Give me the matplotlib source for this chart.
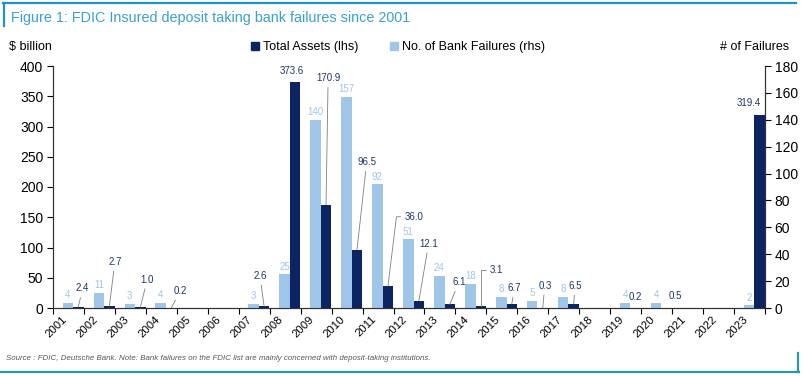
import matplotlib
matplotlib.use("Agg")
import matplotlib.pyplot as plt
from matplotlib.lines import Line2D
from matplotlib.patches import Patch
import numpy as np

plt.rcParams['font.family'] = ['Liberation Sans', 'DejaVu Sans']

years = [str(y) for y in range(2001, 2024)]
total_assets = [2.4, 2.7, 1.0, 0.2, 0, 0, 2.6, 373.6, 170.9, 96.5, 36.0, 12.1, 6.1, 3.1,
                6.7, 0.3, 6.5, 0, 0.2, 0.5, 0, 0, 319.4]
failures = [4, 11, 3, 4, 0, 0, 3, 25, 140, 157, 92, 51, 24, 18, 8, 5, 8, 0, 4, 4, 0, 0, 2]

# label offsets (points) of asset labels relative to bar top; leader style: None, 'straight', or elbow angle
asset_label_offsets = {
    0: (3, 13, 'straight'), 1: (4, 32, 'straight'), 2: (5, 20, 'straight'), 3: (6.5, 12, 'straight'),
    6: (-3, 22, 'straight'), 7: (-2, 8, None), 8: (1.5, 91, 'straight'), 9: (7, 63, 'straight'),
    10: (19, 50, 83), 11: (7, 41, 'straight'), 12: (6.5, 16, 'straight'), 13: (11.5, 26, 90),
    14: (2, 11.5, 'straight'), 15: (1.5, 16, 'straight'), 16: (1, 13, 'straight'), 18: (0, 8, None),
    19: (6, 8.5, None), 22: (-8, 8.5, None),
}

navy = '#0c2461'
light = '#9fc5e8'
label_navy = '#1f3567'
title_col = '#3aa0d2'

fig = plt.figure(figsize=(8.07, 3.76), dpi=100)
ax = fig.add_axes([53/807, 1-308/376, (765-53)/807, (308-66)/376])
ax2 = ax.twinx()

x = np.arange(len(years))
w = 0.34
ax2.bar(x - 0.02, failures, width=w, color=light, zorder=2)
ax.bar(x + 0.32, total_assets, width=w, color=navy, zorder=2)

ax.set_xlim(-0.5, len(years) - 0.5)
ax.set_ylim(0, 400)
ax2.set_ylim(0, 180)
ax.set_yticks(np.arange(0, 401, 50))
ax2.set_yticks(np.arange(0, 181, 20))

ax.set_xticks(x)
ax.set_xticklabels(years, rotation=45, ha='right', fontsize=8.2)
ax.tick_params(axis='x', which='major', length=0, pad=4.5)
ax.set_xticks(np.arange(-0.5, len(years), 1), minor=True)
ax.tick_params(axis='x', which='minor', length=4, direction='out', width=0.8)
ax.tick_params(axis='y', labelsize=10, length=4, width=0.8, pad=3)
ax2.tick_params(axis='y', labelsize=10, length=4, width=0.8, pad=3)

for a in (ax, ax2):
    a.spines['top'].set_visible(False)
    for s in ('left', 'right', 'bottom'):
        a.spines[s].set_linewidth(0.8)
        a.spines[s].set_color('#333333')

# failure labels
for i, v in enumerate(failures):
    if v > 0:
        ax2.annotate(str(v), (i - 0.02, v), xytext=(0, 2), textcoords='offset points',
                     ha='center', va='bottom', fontsize=7, color=light)

# asset labels
for i, (dx, dy, line) in asset_label_offsets.items():
    v = total_assets[i]
    kw = {}
    if line == 'straight':
        kw['arrowprops'] = dict(arrowstyle='-', color='#7f7f7f', lw=0.6, shrinkA=1, shrinkB=0)
    elif line is not None:
        kw['arrowprops'] = dict(arrowstyle='-', color='#7f7f7f', lw=0.6, shrinkA=1, shrinkB=0,
                                relpos=(0, 0.5),
                                connectionstyle=f'angle,angleA=0,angleB={line},rad=0')
    ax.annotate(f"{v:.1f}", (i + 0.32, v), xytext=(dx, dy), textcoords='offset points',
                ha='center', va='center', fontsize=7, color=label_navy, **kw)

# axis unit labels
fig.text(9/807, 1-47/376, '$ billion', fontsize=9, va='center', ha='left')
fig.text(789/807, 1-47/376, '# of Failures', fontsize=9, va='center', ha='right')

handles = [Patch(color=navy, label='Total Assets (lhs)'),
           Patch(color=light, label='No. of Bank Failures (rhs)')]
fig.legend(handles=handles, loc='center', bbox_to_anchor=(398/807, 1-47/376), ncol=2,
           frameon=False, fontsize=9, handlelength=0.6, handleheight=0.6,
           handletextpad=0.3, columnspacing=2.6)

# title and frame
fig.text(11/807, 1-18/376, 'Figure 1: FDIC Insured deposit taking bank failures since 2001',
         fontsize=10.4, color=title_col, va='center', ha='left')
fig.add_artist(Line2D([3/807, 796/807], [1-3/376, 1-3/376], color='#1f93c6', lw=1.6))
fig.add_artist(Line2D([4/807, 4/807], [1-3/376, 1-26/376], color='#1f93c6', lw=1.6))
fig.add_artist(Line2D([0/807, 799/807], [1-372/376, 1-372/376], color='#2a97a6', lw=1.6))
fig.add_artist(Line2D([798/807, 798/807], [1-372/376, 1-353/376], color='#2a97a6', lw=1.6))

fig.text(6/807, 1-358/376,
         'Source : FDIC, Deutsche Bank. Note: Bank failures on the FDIC list are mainly concerned with deposit-taking institutions.',
         fontsize=5.7, style='italic', color='#555555', va='center', ha='left')

fig.savefig('out.png', dpi=100)
